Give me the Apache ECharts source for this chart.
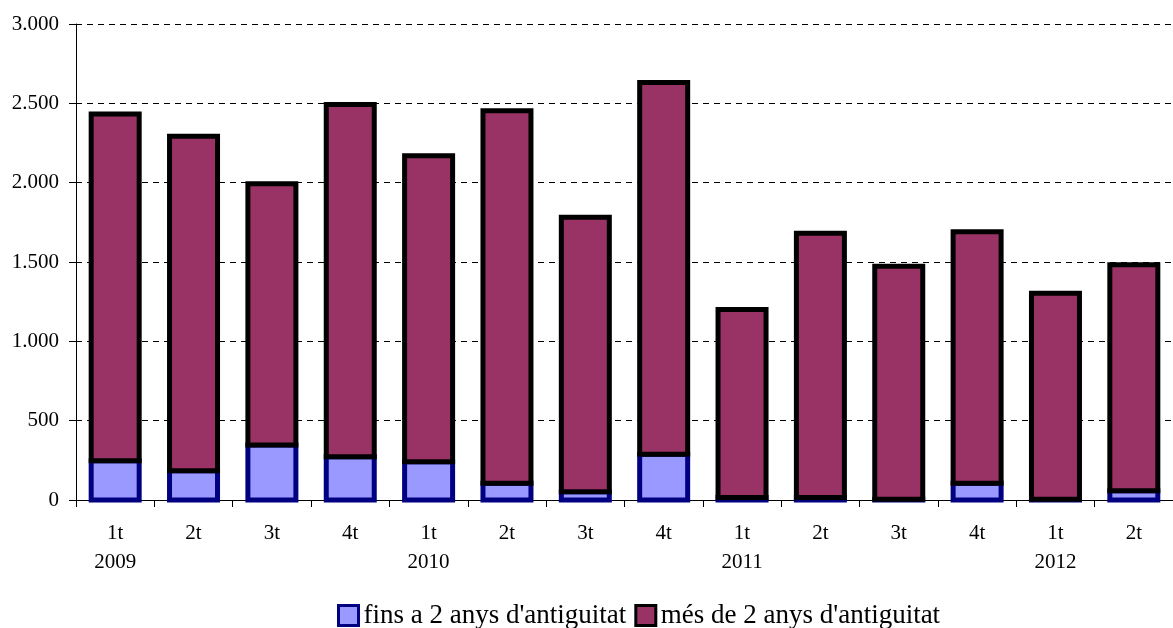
<!DOCTYPE html>
<html>
<head>
<meta charset="utf-8">
<script src="https://cdn.jsdelivr.net/npm/echarts@6/dist/echarts.min.js"></script>
<style>
html,body{margin:0;padding:0;background:#fff;}
#c{width:1173px;height:628px;}
</style>
</head>
<body>
<div id="c"></div>
<script>
var categories = ['1t\n2009','2t','3t','4t','1t\n2010','2t','3t','4t','1t\n2011','2t','3t','4t','1t\n2012','2t'];
var finsA2Anys = [247, 185, 346, 273, 241, 105, 52, 288, 15, 15, 5, 105, 5, 58];
var mesDe2Anys = [2186, 2108, 1647, 2220, 1928, 2348, 1730, 2344, 1185, 1666, 1469, 1586, 1298, 1425];
var seriesNames = ["fins a 2 anys d'antiguitat", "més de 2 anys d'antiguitat"];

var FONT = 'Liberation Serif';
var BAR_W = 48;
var chart = echarts.init(document.getElementById('c'), null, {renderer:'canvas'});
function fmt(v){ return String(v).replace(/\B(?=(\d{3})+(?!\d))/g, '.'); }

// data rows: [categoryIndex, base, top]
var blueData = finsA2Anys.map(function(v, i){ return [i, 0, v]; });
var purpleData = mesDe2Anys.map(function(v, i){ return [i, finsA2Anys[i], finsA2Anys[i] + v]; });

function makeRender(fill, stroke){
  return function(params, api){
    var i = api.value(0);
    var p0 = api.coord([i, api.value(1)]);
    var p1 = api.coord([i, api.value(2)]);
    return {
      type: 'rect',
      shape: {x: p0[0] - BAR_W / 2, y: p1[1], width: BAR_W, height: p0[1] - p1[1]},
      style: {fill: fill, stroke: stroke, lineWidth: 5}
    };
  };
}

chart.setOption({
  animation: false,
  backgroundColor: '#fff',
  grid: {left: 76, top: 24, width: 1107, height: 476, containLabel: false},
  legend: {
    left: 337, top: 602, padding: 0,
    itemWidth: 20, itemHeight: 20, itemGap: 8,
    icon: 'rect',
    textStyle: {fontFamily: FONT, fontSize: 27, color: '#000'},
    data: [
      {name: seriesNames[0], icon: 'rect', itemStyle: {color: '#9999FF', borderColor: '#000080', borderWidth: 3}},
      {name: seriesNames[1], icon: 'rect', itemStyle: {color: '#993366', borderColor: '#000000', borderWidth: 3}}
    ]
  },
  xAxis: {
    type: 'category',
    data: categories,
    boundaryGap: true,
    axisLine: {lineStyle: {color: '#000', width: 1}},
    axisTick: {show: true, alignWithLabel: false, length: 7, lineStyle: {color: '#000'}},
    axisLabel: {fontFamily: FONT, fontSize: 21, color: '#000', margin: 19, lineHeight: 29, interval: 0},
    splitLine: {show: false}
  },
  yAxis: {
    type: 'value',
    min: 0, max: 3000, interval: 500,
    axisLine: {show: true, lineStyle: {color: '#000', width: 1}},
    axisTick: {show: true, length: 7, lineStyle: {color: '#000'}},
    axisLabel: {fontFamily: FONT, fontSize: 21, color: '#000', margin: 17, formatter: fmt},
    splitLine: {show: true, lineStyle: {color: '#000', width: 1, type: [6, 5]}}
  },
  series: [
    {
      name: seriesNames[0], type: 'custom',
      itemStyle: {color: '#9999FF', borderColor: '#000080'},
      encode: {x: 0, y: [1, 2]},
      data: blueData,
      renderItem: makeRender('#9999FF', '#000080')
    },
    {
      name: seriesNames[1], type: 'custom',
      itemStyle: {color: '#993366', borderColor: '#000000'},
      encode: {x: 0, y: [1, 2]},
      data: purpleData,
      renderItem: makeRender('#993366', '#000000')
    }
  ]
});
</script>
</body>
</html>
